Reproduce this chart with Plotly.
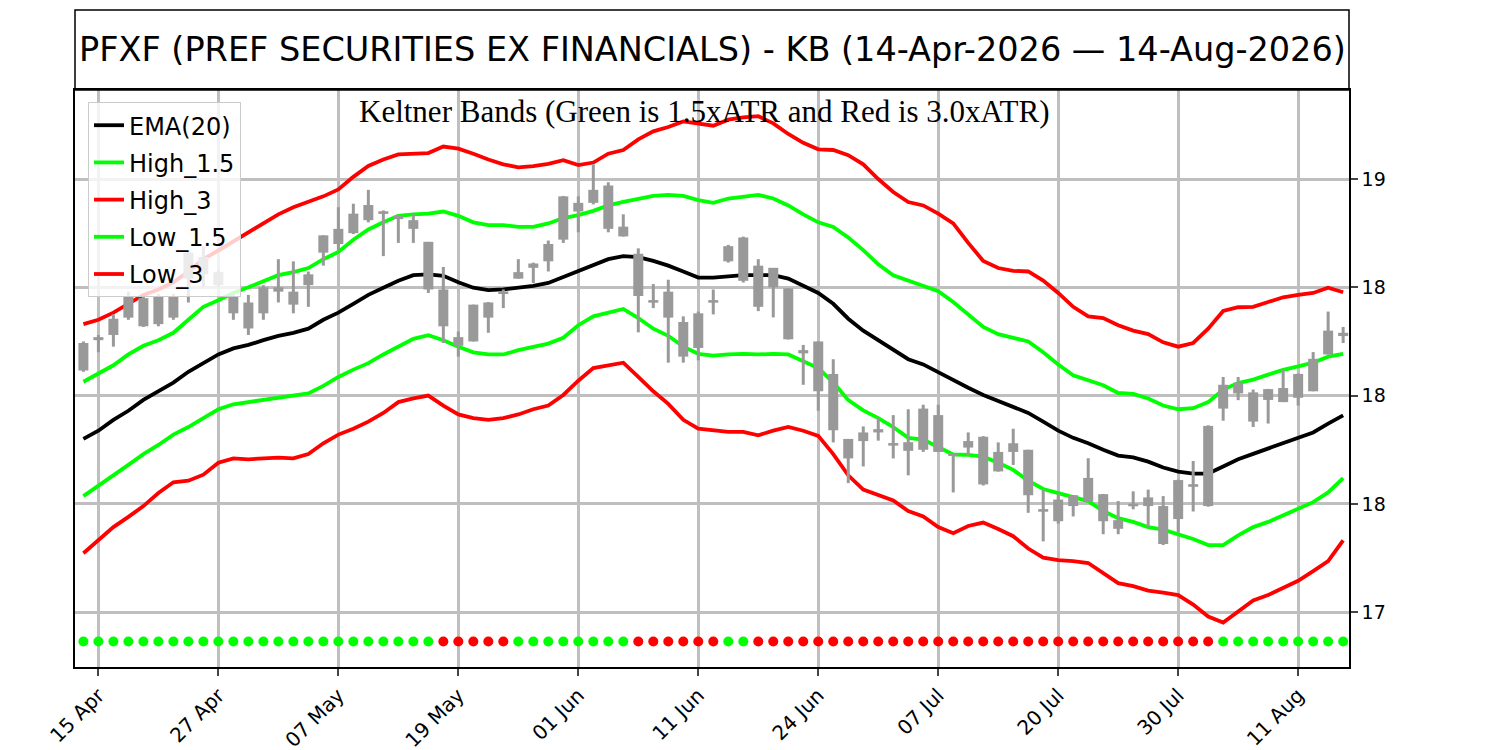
"""Keltner bands for PFXF, 14-Apr-2026 to 14-Aug-2026, drawn with Plotly.

Candles are drawn as scatter segments so they sit above the band lines,
as in the original chart.
"""

import plotly.graph_objects as go

TITLE = "PFXF (PREF SECURITIES EX FINANCIALS) - KB (14-Apr-2026 \u2014 14-Aug-2026)"
SUBTITLE = "Keltner Bands (Green is 1.5xATR and Red is 3.0xATR)"

# trading-day index ticks
TICK_IDX = [1, 9, 17, 25, 33, 41, 49, 57, 65, 73, 81]
TICK_TEXT = ["15 Apr", "27 Apr", "07 May", "19 May", "01 Jun", "11 Jun",
             "24 Jun", "07 Jul", "20 Jul", "30 Jul", "11 Aug"]

Y_TICKS = [17.0, 17.5, 18.0, 18.5, 19.0]
Y_TICK_TEXT = ["17", "18", "18", "18", "19"]

OPEN = [18.116, 18.256, 18.28, 18.36, 18.45, 18.33, 18.46, 18.54, 18.64, 18.57,
        18.46, 18.31, 18.38, 18.50, 18.42, 18.51, 18.66, 18.70, 18.75, 18.81,
        18.85, 18.83, 18.77, 18.71, 18.49, 18.23, 18.25, 18.43, 18.47, 18.54,
        18.59, 18.62, 18.72, 18.89, 18.89, 18.97, 18.78, 18.655, 18.43, 18.48,
        18.34, 18.22, 18.43, 18.62, 18.73, 18.60, 18.50, 18.495, 18.21, 18.25,
        18.10, 17.80, 17.79, 17.845, 17.78, 17.745, 17.75, 17.91, 17.73, 17.76,
        17.81, 17.65, 17.74, 17.75, 17.475, 17.42, 17.49, 17.51, 17.545, 17.425,
        17.49, 17.49, 17.49, 17.43, 17.59, 17.49, 17.94, 18.06, 18.015, 17.98,
        17.97, 17.99, 18.02, 18.19, 18.29]
HIGH = [18.25, 18.28, 18.375, 18.48, 18.46, 18.47, 18.47, 18.67, 18.69, 18.58,
        18.47, 18.465, 18.51, 18.63, 18.62, 18.573, 18.74, 18.87, 18.886, 18.95,
        18.855, 18.835, 18.837, 18.71, 18.594, 18.296, 18.42, 18.432, 18.49, 18.63,
        18.614, 18.716, 18.922, 18.92, 19.068, 18.985, 18.837, 18.68, 18.515, 18.535,
        18.366, 18.388, 18.49, 18.696, 18.734, 18.63, 18.589, 18.495, 18.234, 18.25,
        18.168, 17.80, 17.858, 17.90, 17.91, 17.937, 17.958, 17.958, 17.73, 17.83,
        17.813, 17.784, 17.847, 17.75, 17.566, 17.55, 17.541, 17.711, 17.546, 17.513,
        17.558, 17.566, 17.536, 17.612, 17.698, 17.863, 18.086, 18.086, 18.028, 18.031,
        18.119, 18.102, 18.201, 18.388, 18.317]
LOW = [18.11, 18.20, 18.226, 18.35, 18.317, 18.32, 18.35, 18.43, 18.50, 18.50,
       18.35, 18.28, 18.35, 18.43, 18.38, 18.41, 18.60, 18.67, 18.746, 18.80,
       18.644, 18.705, 18.705, 18.474, 18.243, 18.18, 18.25, 18.29, 18.404, 18.54,
       18.52, 18.573, 18.705, 18.754, 18.883, 18.754, 18.734, 18.292, 18.404, 18.152,
       18.152, 18.163, 18.375, 18.614, 18.522, 18.39, 18.361, 18.259, 18.05, 17.93,
       17.784, 17.596, 17.673, 17.792, 17.71, 17.632, 17.74, 17.74, 17.553, 17.723,
       17.585, 17.649, 17.68, 17.459, 17.327, 17.409, 17.442, 17.508, 17.36, 17.36,
       17.475, 17.394, 17.31, 17.368, 17.465, 17.487, 17.884, 17.979, 17.855, 17.871,
       17.97, 17.954, 18.02, 18.19, 18.243]
CLOSE = [18.243, 18.27, 18.355, 18.46, 18.32, 18.46, 18.36, 18.66, 18.56, 18.51,
         18.38, 18.43, 18.50, 18.48, 18.48, 18.56, 18.74, 18.77, 18.84, 18.88,
         18.84, 18.815, 18.81, 18.49, 18.32, 18.27, 18.42, 18.36, 18.48, 18.57,
         18.61, 18.70, 18.92, 18.85, 18.95, 18.77, 18.735, 18.46, 18.44, 18.36,
         18.18, 18.38, 18.44, 18.69, 18.53, 18.41, 18.59, 18.26, 18.195, 18.02,
         17.84, 17.71, 17.83, 17.83, 17.77, 17.785, 17.94, 17.74, 17.725, 17.79,
         17.59, 17.74, 17.78, 17.54, 17.465, 17.52, 17.54, 17.62, 17.42, 17.385,
         17.50, 17.53, 17.315, 17.61, 17.58, 17.86, 18.05, 18.01, 17.88, 18.03,
         18.035, 18.10, 18.17, 18.30, 18.275]

EMA20 = [17.80, 17.838, 17.888, 17.93, 17.98, 18.02, 18.06, 18.11, 18.15, 18.19,
         18.218, 18.234, 18.256, 18.276, 18.29, 18.309, 18.35, 18.383, 18.424, 18.465,
         18.498, 18.53, 18.556, 18.56, 18.553, 18.523, 18.498, 18.487, 18.49, 18.498,
         18.507, 18.52, 18.548, 18.576, 18.606, 18.63, 18.644, 18.639, 18.622, 18.60,
         18.573, 18.545, 18.545, 18.55, 18.556, 18.556, 18.556, 18.54, 18.507, 18.474,
         18.424, 18.355, 18.30, 18.256, 18.21, 18.168, 18.144, 18.107, 18.069, 18.036,
         18.003, 17.975, 17.949, 17.92, 17.88, 17.838, 17.805, 17.78, 17.75, 17.723,
         17.715, 17.695, 17.668, 17.649, 17.64, 17.64, 17.673, 17.706, 17.731, 17.756,
         17.78, 17.805, 17.83, 17.871, 17.909]
HIGH_15 = [18.064, 18.10, 18.14, 18.19, 18.23, 18.256, 18.29, 18.35, 18.41, 18.44,
           18.474, 18.50, 18.53, 18.556, 18.57, 18.589, 18.63, 18.663, 18.72, 18.767,
           18.80, 18.83, 18.837, 18.84, 18.85, 18.83, 18.80, 18.787, 18.787, 18.779,
           18.779, 18.795, 18.82, 18.833, 18.853, 18.878, 18.894, 18.91, 18.922, 18.927,
           18.922, 18.903, 18.89, 18.91, 18.919, 18.927, 18.91, 18.878, 18.837, 18.80,
           18.779, 18.73, 18.672, 18.606, 18.556, 18.53, 18.505, 18.482, 18.432, 18.375,
           18.317, 18.284, 18.267, 18.25, 18.20, 18.144, 18.094, 18.069, 18.048, 18.012,
           18.008, 17.987, 17.954, 17.937, 17.942, 17.97, 18.028, 18.058, 18.074, 18.097,
           18.119, 18.135, 18.152, 18.18, 18.193]
HIGH_3 = [18.33, 18.35, 18.383, 18.424, 18.465, 18.49, 18.523, 18.573, 18.63, 18.67,
          18.713, 18.754, 18.795, 18.837, 18.87, 18.894, 18.92, 18.952, 19.01, 19.06,
          19.09, 19.114, 19.117, 19.12, 19.15, 19.14, 19.117, 19.09, 19.068, 19.054,
          19.06, 19.07, 19.087, 19.064, 19.076, 19.117, 19.134, 19.183, 19.22, 19.24,
          19.266, 19.257, 19.246, 19.274, 19.285, 19.29, 19.257, 19.208, 19.167, 19.137,
          19.134, 19.11, 19.068, 19.0, 18.94, 18.894, 18.878, 18.84, 18.795, 18.705,
          18.622, 18.589, 18.576, 18.573, 18.531, 18.474, 18.41, 18.366, 18.358, 18.325,
          18.30, 18.284, 18.246, 18.226, 18.243, 18.309, 18.391, 18.408, 18.41, 18.432,
          18.454, 18.465, 18.474, 18.498, 18.477]
LOW_15 = [17.536, 17.583, 17.632, 17.68, 17.73, 17.772, 17.82, 17.855, 17.896, 17.937,
          17.96, 17.97, 17.98, 17.99, 18.0, 18.01, 18.045, 18.086, 18.12, 18.15,
          18.19, 18.226, 18.262, 18.279, 18.256, 18.226, 18.20, 18.19, 18.19, 18.21,
          18.226, 18.24, 18.267, 18.325, 18.366, 18.383, 18.40, 18.358, 18.309, 18.276,
          18.226, 18.193, 18.185, 18.19, 18.193, 18.19, 18.193, 18.19, 18.16, 18.127,
          18.061, 17.979, 17.932, 17.896, 17.855, 17.805, 17.797, 17.764, 17.728, 17.726,
          17.718, 17.69, 17.657, 17.607, 17.569, 17.55, 17.533, 17.513, 17.467, 17.434,
          17.417, 17.393, 17.381, 17.36, 17.338, 17.31, 17.31, 17.355, 17.393, 17.417,
          17.447, 17.475, 17.508, 17.553, 17.619]
LOW_3 = [17.272, 17.335, 17.393, 17.44, 17.49, 17.55, 17.60, 17.607, 17.635, 17.69,
         17.71, 17.706, 17.71, 17.714, 17.71, 17.73, 17.78, 17.82, 17.847, 17.88,
         17.92, 17.97, 17.987, 18.0, 17.954, 17.913, 17.896, 17.888, 17.896, 17.913,
         17.937, 17.954, 18.003, 18.069, 18.127, 18.14, 18.152, 18.086, 18.02, 17.962,
         17.888, 17.847, 17.838, 17.833, 17.833, 17.817, 17.838, 17.855, 17.838, 17.814,
         17.73, 17.632, 17.566, 17.541, 17.516, 17.467, 17.442, 17.393, 17.365, 17.398,
         17.414, 17.384, 17.351, 17.294, 17.252, 17.24, 17.236, 17.227, 17.178, 17.134,
         17.12, 17.10, 17.09, 17.079, 17.035, 16.98, 16.952, 17.005, 17.054, 17.079,
         17.112, 17.145, 17.19, 17.236, 17.332]

# G = green dot, R = red dot, one per bar
SIGNAL = list("GGGGGGGGGGGGGGGGGGGGGGGG" "RRRRR" "GGGGGGGG" "RRRRRR" "GG"
              "RRRRRRRRRRRRRRRRRRRRRRRRRRRRRRR" "GGGGGGGGG")
DOT_LEVEL = 16.865

CANDLE_GREY = "#999999"
LIME = "#00ff00"
RED = "#ff0000"
FONT = "DejaVu Sans"

idx = list(range(len(CLOSE)))

fig = go.Figure()

bands = [
    ("EMA(20)", EMA20, "black"),
    ("High_1.5", HIGH_15, LIME),
    ("High_3", HIGH_3, RED),
    ("Low_1.5", LOW_15, LIME),
    ("Low_3", LOW_3, RED),
]
for name, vals, color in bands:
    fig.add_trace(go.Scatter(
        x=idx, y=vals, mode="lines", name=name, legendgroup=name,
        line=dict(color=color, width=3.8),
    ))

# wicks
wx, wy = [], []
for i, h, l in zip(idx, HIGH, LOW):
    wx += [i, i, None]
    wy += [l, h, None]
fig.add_trace(go.Scatter(x=wx, y=wy, mode="lines", showlegend=False,
                         hoverinfo="skip", line=dict(color=CANDLE_GREY, width=3)))

# bodies (dojis get a small visible tick)
bx, by = [], []
for i, o, c in zip(idx, OPEN, CLOSE):
    lo, hi = min(o, c), max(o, c)
    if hi - lo < 0.012:
        mid = (hi + lo) / 2
        lo, hi = mid - 0.006, mid + 0.006
    bx += [i, i, None]
    by += [lo, hi, None]
fig.add_trace(go.Scatter(x=bx, y=by, mode="lines", showlegend=False,
                         hoverinfo="skip", line=dict(color=CANDLE_GREY, width=10)))

fig.add_trace(go.Scatter(
    x=idx, y=[DOT_LEVEL] * len(idx), mode="markers", showlegend=False,
    marker=dict(size=10, color=[LIME if s == "G" else RED for s in SIGNAL]),
    hoverinfo="skip",
))

# the page puts the figure 8px in from the top-left corner, so margins are shifted
M_L, M_R, M_T, M_B = 67, 159, 82, 91
plot_h = 750 - M_T - M_B
fig.add_shape(type="rect", xref="paper", yref="paper", x0=0, x1=1,
              y0=1, y1=1 + 80 / plot_h, line=dict(color="black", width=1.5))
fig.add_annotation(text=TITLE, xref="paper", yref="paper", x=0.5,
                   y=1 + 40 / plot_h, yanchor="middle", showarrow=False,
                   font=dict(family=FONT, size=33.5, color="black"))
fig.add_annotation(text=SUBTITLE, xref="paper", yref="paper", x=0.4945,
                   y=1 - 21 / plot_h, yanchor="middle", showarrow=False,
                   font=dict(family="Liberation Serif", size=31, color="black"))

fig.update_layout(
    width=1500, height=750,
    margin=dict(l=M_L, r=M_R, t=M_T, b=M_B),
    plot_bgcolor="white", paper_bgcolor="white",
    font=dict(family=FONT, color="black"),
    legend=dict(
        x=0.0102, y=0.979, xanchor="left", yanchor="top",
        bgcolor="rgba(255,255,255,0.8)", bordercolor="#cccccc", borderwidth=1,
        font=dict(size=24), tracegroupgap=3,
    ),
    xaxis=dict(
        range=[-0.56, 84.39], tickmode="array", tickvals=TICK_IDX, ticktext=TICK_TEXT,
        tickangle=-45, tickfont=dict(size=20), ticks="outside", ticklen=7,
        tickwidth=1.5, showgrid=True, gridcolor="#bfbfbf", gridwidth=3,
        showline=True, linecolor="black", linewidth=1.5, mirror=True, zeroline=False,
        automargin=False,
    ),
    yaxis=dict(
        range=[16.747, 19.411], side="right", tickmode="array", tickvals=Y_TICKS,
        ticktext=Y_TICK_TEXT, tickfont=dict(size=19), ticks="outside", ticklen=7,
        tickwidth=1.5, showgrid=True, gridcolor="#bfbfbf", gridwidth=3,
        showline=True, linecolor="black", linewidth=1.5, mirror=True, zeroline=False,
        automargin=False,
    ),
)

fig.write_html("out.html")
